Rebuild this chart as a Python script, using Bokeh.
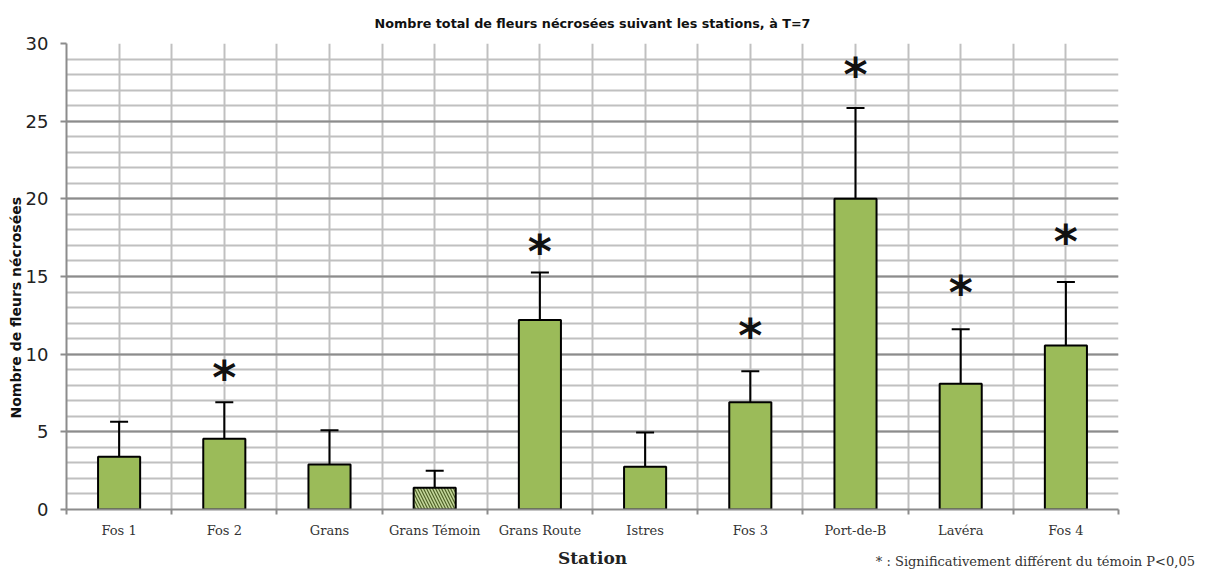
from bokeh.plotting import figure
from bokeh.models import (ColumnDataSource, Whisker, FixedTicker, TeeHead, Title,
                          LinearAxis)
from bokeh.core.properties import value
from bokeh.embed import file_html
from bokeh.resources import INLINE

categories = ["Fos 1", "Fos 2", "Grans", "Grans Témoin", "Grans Route",
              "Istres", "Fos 3", "Port-de-B", "Lavéra", "Fos 4"]
means = [3.4, 4.55, 2.9, 1.4, 12.2, 2.75, 6.9, 20.0, 8.1, 10.55]
errors = [2.25, 2.35, 2.2, 1.1, 3.05, 2.2, 2.0, 5.85, 3.5, 4.1]
control = "Grans Témoin"
signif_cats = ["Fos 2", "Grans Route", "Fos 3", "Port-de-B", "Lavéra", "Fos 4"]
star_heights = [8.9, 17.0, 11.6, 28.4, 14.4, 17.7]
y_ticks = [0, 5, 10, 15, 20, 25, 30]

title_text = "Nombre total de fleurs nécrosées suivant les stations, à T=7"
ylabel_text = "Nombre de fleurs nécrosées"
xlabel_text = "Station"
note_text = "* : Significativement différent du témoin P<0,05"
note_x = 9.71

xs = list(range(1, len(categories) + 1))
src = ColumnDataSource(dict(
    x=xs, top=means,
    upper=[m + e for m, e in zip(means, errors)],
    lower=[m - e for m, e in zip(means, errors)],
    fill=["#C4D79B" if c == control else "#9BBB59" for c in categories],
    hatch=["\\" if c == control else " " for c in categories],
))
star_src = ColumnDataSource(dict(
    x=[categories.index(c) + 1 for c in signif_cats],
    y=star_heights,
    t=["*"] * len(signif_cats),
))

W, H = 1205, 571
L, R, T, B = 66, 87, 43, 62
p = figure(width=W, height=H, output_backend="svg", toolbar_location=None,
           x_range=(0.5, len(categories) + 0.5), y_range=(0, 30),
           min_border_left=L, min_border_right=R, min_border_top=T, min_border_bottom=B)
p.outline_line_color = None
p.background_fill_color = "white"

p.title = Title(text=title_text, align="center", text_font="DejaVu Sans",
                text_font_style="bold", text_font_size="12.75px", text_color="#111111",
                standoff=26)

# axes
p.xaxis.ticker = FixedTicker(ticks=xs, minor_ticks=[i + 0.5 for i in range(0, len(categories) + 1)])
p.xaxis.major_label_overrides = {i + 1: c for i, c in enumerate(categories)}
p.xaxis.major_tick_line_color = None
p.xaxis.major_tick_out = 0
p.xaxis.major_tick_in = 0
p.xaxis.minor_tick_line_color = "#8C8C8C"
p.xaxis.minor_tick_line_width = 2
p.xaxis.minor_tick_out = 5
p.xaxis.minor_tick_in = 0
p.xaxis.major_label_standoff = 8
p.xaxis.major_label_text_font = "DejaVu Serif"
p.xaxis.major_label_text_font_size = "13px"
p.xaxis.major_label_text_color = "#333333"
p.xaxis.axis_line_color = "#8C8C8C"
p.xaxis.axis_line_width = 2
p.xaxis.axis_label = xlabel_text
p.xaxis.axis_label_text_font = "DejaVu Serif"
p.xaxis.axis_label_text_font_style = "bold"
p.xaxis.axis_label_text_font_size = "17px"
p.xaxis.axis_label_text_color = "#222222"
p.xaxis.axis_label_standoff = 7

# footnote as a label-only axis stacked under the main x axis
note_axis = LinearAxis(ticker=FixedTicker(ticks=[note_x]),
                       major_label_overrides={note_x: note_text})
note_axis.axis_line_color = None
note_axis.major_tick_line_color = None
note_axis.minor_tick_line_color = None
note_axis.major_tick_out = 0
note_axis.major_tick_in = 0
note_axis.major_label_standoff = -17
note_axis.major_label_text_font = "DejaVu Serif"
note_axis.major_label_text_font_size = "13px"
note_axis.major_label_text_color = "#333333"
p.add_layout(note_axis, "below")

p.yaxis.ticker = FixedTicker(ticks=y_ticks, minor_ticks=list(range(0, 31)))
p.yaxis.major_tick_line_color = "#8C8C8C"
p.yaxis.major_tick_line_width = 2
p.yaxis.major_tick_out = 6
p.yaxis.major_tick_in = 0
p.yaxis.minor_tick_line_color = None
p.yaxis.major_label_standoff = 12
p.yaxis.major_label_text_font = "DejaVu Sans"
p.yaxis.major_label_text_font_size = "18px"
p.yaxis.major_label_text_color = "#222222"
p.yaxis.axis_line_color = "#8C8C8C"
p.yaxis.axis_line_width = 2

# y axis title as a left-side title, starting above the frame bottom like the reference
p.add_layout(Title(text=ylabel_text, align="left", offset=91, standoff=-2,
                   text_font="DejaVu Sans", text_font_style="bold",
                   text_font_size="14px", text_color="#111111"), "left")

# grid
p.xgrid.grid_line_color = "#C0C0C0"
p.xgrid.grid_line_width = 2
p.xgrid.minor_grid_line_color = "#C0C0C0"
p.xgrid.minor_grid_line_width = 2
p.ygrid.grid_line_color = "#8C8C8C"
p.ygrid.grid_line_width = 2
p.ygrid.minor_grid_line_color = "#C0C0C0"
p.ygrid.minor_grid_line_width = 2

# bars
p.vbar(x="x", top="top", bottom=0, width=0.4, source=src,
       fill_color="fill", line_color="black", line_width=2,
       hatch_pattern="hatch", hatch_color="#4F6228", hatch_scale=6, hatch_weight=1.2)

# error bars
wh = Whisker(base="x", upper="upper", lower="lower", source=src,
             line_color="black", line_width=2,
             upper_head=TeeHead(size=18, line_color="black", line_width=2),
             lower_head=TeeHead(size=18, line_color="black", line_width=2))
p.add_layout(wh)

# significance stars
p.text(x="x", y="y", text="t", source=star_src, text_align="center",
       text_baseline="middle", text_font=value("DejaVu Sans"), text_font_style="bold",
       text_font_size="46px", text_color="#111111", y_offset=7)

open("out.html", "w").write(file_html(p, INLINE))
